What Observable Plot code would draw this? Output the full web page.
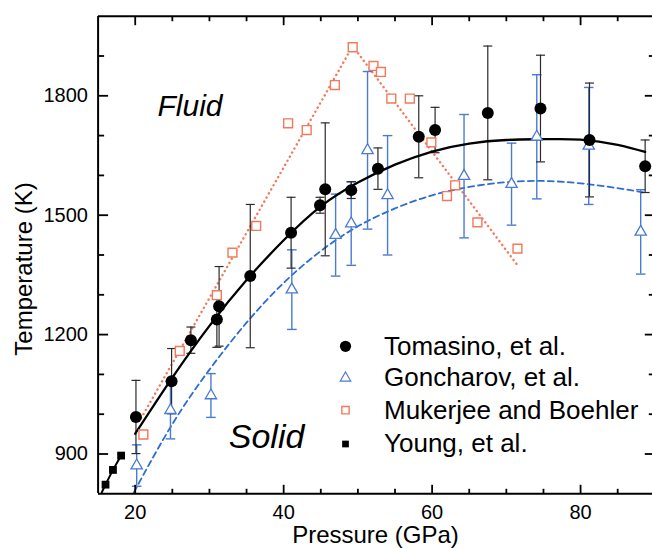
<!DOCTYPE html>
<html><head><meta charset="utf-8">
<script src="https://cdn.jsdelivr.net/npm/d3@7"></script>
<script src="https://cdn.jsdelivr.net/npm/@observablehq/plot@0.6"></script>
<style>
html,body{margin:0;padding:0;background:#fff;overflow:hidden}
#chart svg{display:block}
</style></head><body><div id="chart"></div>
<script>
// Tomasino, et al. (filled circles with error bars)
const tomP   = [20.1, 24.9, 27.5, 31.0, 31.3, 35.5, 41.0, 44.9, 45.6, 49.1, 52.7, 58.2, 60.4, 67.5, 74.6, 81.2, 88.7];
const tomT   = [993, 1083, 1186, 1238, 1271, 1347, 1456, 1525, 1565, 1563, 1617, 1697, 1714, 1757, 1768, 1689, 1623];
const tomErr = [92, 82, 33, 70, 100, 180, 89, 20, 167, 21, 52, 103, 57, 168, 134, 143, 66];
// Goncharov, et al. (open triangles with error bars)
const gonP   = [20.2, 24.75, 30.2, 41.1, 47.0, 49.1, 51.3, 54.0, 64.3, 70.7, 74.1, 81.1, 88.1];
const gonT   = [871, 1010, 1047, 1313, 1450, 1479, 1663, 1550, 1598, 1578, 1697, 1674, 1458];
const gonErr = [52, 72, 55, 100, 103, 105, 198, 150, 155, 103, 156, 147, 106];
// Mukerjee and Boehler (open squares)
const mukP = [21.1, 26.0, 31.0, 33.1, 36.3, 40.6, 43.1, 46.9, 49.3, 52.1, 53.1, 54.5, 57.0, 59.9, 62.0, 63.1, 66.1, 71.5];
const mukT = [949, 1159, 1299, 1406, 1473, 1731, 1714, 1827, 1922, 1875, 1860, 1793, 1793, 1683, 1548, 1575, 1482, 1416];
// Young, et al. (filled squares)
const youP = [16.0, 17.0, 18.1];
const youT = [823, 860, 896];
// Curves
const tomFitP = [20, 25, 30, 35, 40, 45, 50, 55, 60, 65, 70, 75, 80, 85, 88.7];
const tomFitT = [951, 1092, 1222, 1337, 1437, 1522, 1582, 1627, 1660, 1680, 1689, 1691, 1690, 1677, 1659];
const gonFitP = [19.8, 25, 30, 35, 40, 45, 50, 55, 60, 65, 70, 75, 80, 85, 88.5];
const gonFitT = [803, 975, 1112, 1230, 1330, 1410, 1472, 1517, 1550, 1571, 1583, 1586, 1580, 1568, 1557];
const mukLineP = [20.8, 49.3, 71.6];
const mukLineT = [990, 1925, 1372];
const youLineP = [15.5, 16.0, 17.0, 18.1];
const youLineT = [804, 823, 860, 896];
// Ticks
const xMajor = [20, 40, 60, 80];
const xMinor = [25, 30, 35, 45, 50, 55, 65, 70, 75, 85];
const yMajor = [900, 1200, 1500, 1800];
const yMinor = [1000, 1100, 1300, 1400, 1600, 1700, 1900];
// Legend and annotations
const seriesNames = ["Tomasino, et al.", "Goncharov, et al.", "Mukerjee and Boehler", "Young, et al."];
const regionLabels = ["Fluid", "Solid"];
const regionP = [23.0, 32.6];
const regionT = [1750, 915];

const font = "'Liberation Sans', Arial, Helvetica, sans-serif";
const BLUE = "#4a7bd2", BLUE_LINE = "#2f6cd2", ORANGE = "#f2795a", BAR = "#2b2b2b";

const zip = (P, T, E) => P.map((p, i) => ({P: p, T: T[i], E: E ? E[i] : 0}));
const tom = zip(tomP, tomT, tomErr), gon = zip(gonP, gonT, gonErr);
const muk = zip(mukP, mukT), you = zip(youP, youT);
const tomFit = zip(tomFitP, tomFitT), gonFit = zip(gonFitP, gonFitT);
const mukLine = zip(mukLineP, mukLineT), youLine = zip(youLineP, youLineT);

const lineShape = {draw(ctx, l) { ctx.moveTo(0, 0); ctx.lineTo(0, -l); }};
const capSym = {draw(ctx, size) { const w = Math.sqrt(size / Math.PI); ctx.moveTo(-w, 0); ctx.lineTo(w, 0); }};

function ticks(vals, len, side) {
  const o = {length: len, anchor: "start", shape: lineShape, stroke: "#000", strokeWidth: 1.8, strokeLinecap: "butt"};
  if (side === "bottom") return Plot.vector(vals, {...o, x: d => d, y: () => 800, rotate: 0});
  if (side === "top") return Plot.vector(vals, {...o, x: d => d, y: () => 2000, rotate: 180});
  if (side === "left") return Plot.vector(vals, {...o, y: d => d, x: () => 15, rotate: 90});
  return Plot.vector(vals, {...o, y: d => d, x: () => 90, rotate: -90});
}

function errorBars(data, color, width, capR) {
  return [
    Plot.ruleX(data, {x: "P", y1: d => d.T - d.E, y2: d => d.T + d.E, stroke: color, strokeWidth: width}),
    Plot.dot(data, {x: "P", y: d => d.T + d.E, symbol: capSym, r: capR, stroke: color, strokeWidth: width, fill: "none"}),
    Plot.dot(data, {x: "P", y: d => d.T - d.E, symbol: capSym, r: capR, stroke: color, strokeWidth: width, fill: "none"})
  ];
}

const legendRows = [345.8, 377.5, 409.7, 443.5];
const legendSym = [
  {symbol: "circle", r: 5.6, fill: "#000", stroke: "none"},
  {symbol: "triangle", r: 3.9, fill: "#fff", stroke: BLUE, strokeWidth: 1.2},
  {symbol: "square", r: 4.1, fill: "#fff", stroke: ORANGE, strokeWidth: 1.4},
  {symbol: "square", r: 3.8, fill: "#000", stroke: "none"}
];
const legendMarks = seriesNames.flatMap((name, i) => [
  Plot.dot([name], {frameAnchor: "top-left", dx: 345 - 98, dy: legendRows[i] - 16, ...legendSym[i]}),
  Plot.text([name], {text: d => d, frameAnchor: "top-left", dx: 383.5 - 98, dy: legendRows[i] - 16, textAnchor: "start", lineAnchor: "middle", fontSize: 26, fill: "#000"})
]);

const chart = Plot.plot({
  width: 652, height: 548,
  marginLeft: 98, marginRight: 0, marginTop: 16, marginBottom: 55,
  style: {fontFamily: font, background: "transparent", color: "#000"},
  x: {domain: [15, 90], range: [97.6, 654.3]},
  y: {domain: [800, 2000], range: [493.3, 15.7]},
  marks: [
    // fits
    Plot.line(mukLine, {x: "P", y: "T", stroke: ORANGE, strokeWidth: 2.4, strokeDasharray: "0.1,4.6", strokeLinecap: "round", clip: true}),
    Plot.line(gonFit, {x: "P", y: "T", stroke: BLUE_LINE, strokeWidth: 1.8, strokeDasharray: "6,4", curve: "natural", clip: true}),
    // error bars
    ...errorBars(gon, BLUE, 1.4, 4.8),
    ...errorBars(tom, BAR, 1.2, 4.5),
    Plot.line(tomFit, {x: "P", y: "T", stroke: "#000", strokeWidth: 2.3, curve: "natural", clip: true}),
    Plot.line(youLine, {x: "P", y: "T", stroke: "#000", strokeWidth: 2, clip: true}),
    // points
    Plot.dot(muk, {x: "P", y: "T", symbol: "square", r: 5, fill: "#fff", stroke: ORANGE, strokeWidth: 1.4}),
    Plot.dot(gon, {x: "P", y: "T", symbol: "triangle", r: 4.2, fill: "#fff", stroke: BLUE, strokeWidth: 1.3}),
    Plot.dot(tom, {x: "P", y: "T", r: 6, fill: "#000", stroke: "none"}),
    Plot.dot(you, {x: "P", y: "T", symbol: "square", r: 4.4, fill: "#000", stroke: "none"}),
    // region labels
    Plot.text([0], {x: () => regionP[0], y: () => regionT[0], text: () => regionLabels[0], fontSize: 30, fontStyle: "italic", textAnchor: "start", lineAnchor: "bottom", fill: "#000"}),
    Plot.text([1], {x: () => regionP[1], y: () => regionT[1], text: () => regionLabels[1], fontSize: 34, fontStyle: "italic", textAnchor: "start", lineAnchor: "bottom", fill: "#000"}),
    // legend
    ...legendMarks,
    // frame
    Plot.ruleX([15, 90], {x: d => d, stroke: "#000", strokeWidth: 2}),
    Plot.ruleY([800, 2000], {y: d => d, stroke: "#000", strokeWidth: 2}),
    // ticks
    ticks(xMajor, 9, "bottom"), ticks(xMinor, 5, "bottom"),
    ticks(xMajor, 9, "top"), ticks(xMinor, 5, "top"),
    ticks(yMajor, 10, "left"), ticks(yMinor, 6, "left"),
    ticks(yMajor, 10, "right"), ticks(yMinor, 6, "right"),
    // axes labels
    Plot.axisX(xMajor, {anchor: "bottom", tickSize: 0, tickPadding: 11, fontSize: 20, label: null, tickFormat: d => String(d)}),
    Plot.axisY(yMajor, {anchor: "left", tickSize: 0, tickPadding: 10.5, fontSize: 20, label: null, tickFormat: d => String(d)}),
    Plot.text(["Pressure (GPa)"], {text: d => d, frameAnchor: "bottom", dy: 41.5, textAnchor: "middle", lineAnchor: "middle", fontSize: 24, fill: "#000"}),
    Plot.text(["Temperature (K)"], {text: d => d, frameAnchor: "left", rotate: -90, dx: 24 - 98, dy: 268.5 - 254.5, textAnchor: "middle", lineAnchor: "middle", fontSize: 24, fill: "#000"})
  ]
});
document.getElementById("chart").appendChild(chart);
</script>
</body></html>
